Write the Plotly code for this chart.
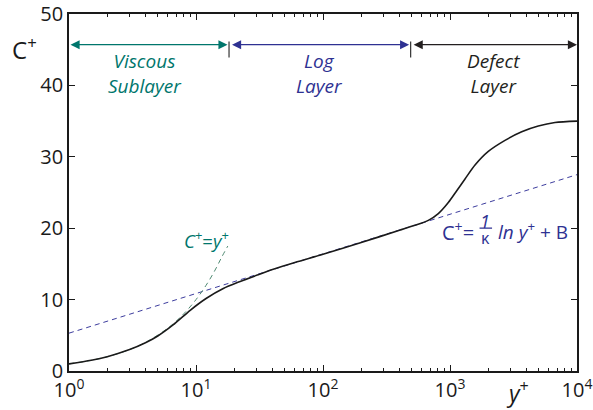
import numpy as np
import plotly.graph_objects as go

# ---- data ----
Y_PLUS = [1, 1.5, 2, 3, 4, 5, 6.6, 9, 12, 16.4, 22, 30, 40, 60, 100, 200, 400,
          530, 675, 809, 970, 1130, 1313, 1574, 2003, 2710, 3670, 4955, 6710, 10000]
C_PLUS = [1.0, 1.5, 2.0, 3.0, 3.95, 4.9, 6.45, 8.5, 10.15, 11.55, 12.5, 13.4, 14.2,
          15.2, 16.35, 18.0, 19.7, 20.4, 21.1, 22.05, 23.6, 25.25, 26.9, 28.85, 30.75,
          32.3, 33.5, 34.3, 34.8, 35.0]

VISC_Y = [1, 1.5, 2, 3, 4, 6, 8, 10, 12, 14, 16, 17.8]        # C+ = y+
VISC_C = [1, 1.5, 2, 3, 4, 6, 8, 10, 12, 14, 16, 17.5]

LOG_Y = [1, 10000]                                              # C+ = 1/k ln y+ + B
LOG_C = [5.3, 27.5]

REGION_BOUNDS = [1, 18.2, 490, 10000]
REGION_LABELS = ["Viscous<br>Sublayer", "Log<br>Layer", "Defect<br>Layer"]
REGION_COLORS = ["#00766c", "#2e3192", "#231f20"]
REGION_SHIFT = [-4, 0, 0]
ARROW_C = 45.7
SEP_C = [43.9, 46.15]
LABEL_C = 41.6

X_TICKS = [1, 10, 100, 1000, 10000]
X_TICKTEXT = ["10<sup>0</sup>", "10<sup>1</sup>", "10<sup>2</sup>", "10<sup>3</sup>", "10<sup>4</sup>"]
Y_TICKS = [0, 10, 20, 30, 40, 50]

FONT = "Open Sans"

fig = go.Figure()

fig.add_trace(go.Scatter(x=LOG_Y, y=LOG_C, mode="lines",
                         line=dict(color="#3d3d9e", width=1, dash="5px,4px"),
                         hoverinfo="skip"))
fig.add_trace(go.Scatter(x=VISC_Y, y=VISC_C, mode="lines",
                         line=dict(color="#4f8a72", width=1, dash="5px,4px", shape="spline"),
                         hoverinfo="skip"))
fig.add_trace(go.Scatter(x=Y_PLUS, y=C_PLUS, mode="lines",
                         line=dict(color="#1a1a1a", width=1.6, shape="spline", smoothing=0.8),
                         hoverinfo="skip"))

# separators between regions
for b in REGION_BOUNDS[1:-1]:
    fig.add_trace(go.Scatter(x=[b, b], y=SEP_C, mode="lines",
                             line=dict(color="#333333", width=1.2), hoverinfo="skip"))

annotations = []
for i in range(3):
    x0 = np.log10(REGION_BOUNDS[i])
    x1 = np.log10(REGION_BOUNDS[i + 1])
    annotations.append(dict(
        x=x1, y=ARROW_C, ax=x0, ay=ARROW_C, xref="x", yref="y", axref="x", ayref="y",
        text="", showarrow=True, arrowside="end+start", arrowhead=2, arrowsize=1.4,
        arrowwidth=1.3, arrowcolor=REGION_COLORS[i],
        standoff=1.5 if i < 2 else 0, startstandoff=1.5 if i > 0 else 0))
    annotations.append(dict(
        x=(x0 + x1) / 2, y=LABEL_C, xref="x", yref="y", showarrow=False,
        xshift=REGION_SHIFT[i],
        text="<i>" + REGION_LABELS[i] + "</i>", align="center",
        font=dict(family=FONT, size=19, color=REGION_COLORS[i])))

# C+ = y+ label
annotations.append(dict(x=np.log10(12.2), y=18.4, xref="x", yref="y", showarrow=False,
                        text="<i>C</i><sup>+</sup>=<i>y</i><sup>+</sup>",
                        font=dict(family=FONT, size=18.5, color="#00766c")))

# log law label built from pieces
FX, FC = np.log10(835), 19.6
blue = "#2e3192"
annotations.append(dict(x=FX, y=FC, xref="x", yref="y", showarrow=False, xanchor="left",
                        text="C<sup>+</sup>=", font=dict(family=FONT, size=20, color=blue)))
annotations.append(dict(x=FX, y=FC, xref="x", yref="y", showarrow=False, xanchor="center",
                        xshift=45, yshift=10, text="<i>1</i>",
                        font=dict(family=FONT, size=18, color=blue)))
annotations.append(dict(x=FX, y=FC, xref="x", yref="y", showarrow=True, text="",
                        xshift=52, yshift=3, ax=-14, ay=0, arrowhead=0, arrowwidth=1.3,
                        arrowcolor=blue, standoff=0))
annotations.append(dict(x=FX, y=FC, xref="x", yref="y", showarrow=False, xanchor="center",
                        xshift=45, yshift=-7, text="κ",
                        font=dict(family=FONT, size=16, color=blue)))
annotations.append(dict(x=FX, y=FC, xref="x", yref="y", showarrow=False, xanchor="left",
                        xshift=56, text="<i>ln y</i><sup>+</sup> + B",
                        font=dict(family=FONT, size=19, color=blue)))

# axis titles
annotations.append(dict(x=-0.088, y=0.902, xref="paper", yref="paper", showarrow=False,
                        xanchor="center", yanchor="middle",
                        text="C<sup>+</sup>", font=dict(family=FONT, size=24, color="#1a1a1a")))
annotations.append(dict(x=0.882, y=-0.058, xref="paper", yref="paper", showarrow=False,
                        xanchor="center", yanchor="middle",
                        text="<i>y</i><sup>+</sup>", font=dict(family=FONT, size=23, color="#1a1a1a")))

minor_vals = [m * 10 ** d for d in range(4) for m in range(2, 10)]

fig.update_layout(
    width=593, height=410,
    margin=dict(l=69, r=16, t=14, b=39, autoexpand=False),
    paper_bgcolor="white", plot_bgcolor="white",
    showlegend=False,
    font=dict(family=FONT, size=20, color="#1a1a1a"),
    annotations=annotations,
    xaxis=dict(type="log", range=[0, 4], tickmode="array", tickvals=X_TICKS,
               ticktext=X_TICKTEXT, ticks="inside", ticklen=6, tickwidth=1.2,
               tickcolor="#1a1a1a", showline=True, linecolor="#1a1a1a", linewidth=1.8,
               mirror="allticks", showgrid=False, zeroline=False, automargin=False,
               tickfont=dict(family=FONT, size=20, color="#1a1a1a"),
               minor=dict(tickmode="array", tickvals=minor_vals, ticks="inside",
                          ticklen=3, tickwidth=1, tickcolor="#1a1a1a", showgrid=False)),
    yaxis=dict(range=[0, 50], tickmode="array", tickvals=Y_TICKS, ticks="inside",
               ticklen=6, tickwidth=1.2, tickcolor="#1a1a1a", showline=True,
               linecolor="#1a1a1a", linewidth=1.8, mirror="allticks", showgrid=False,
               zeroline=False, automargin=False,
               tickfont=dict(family=FONT, size=20, color="#1a1a1a")),
)

fig.write_html("out.html", config={"displayModeBar": False},
               post_script="document.body.style.margin='0';")
